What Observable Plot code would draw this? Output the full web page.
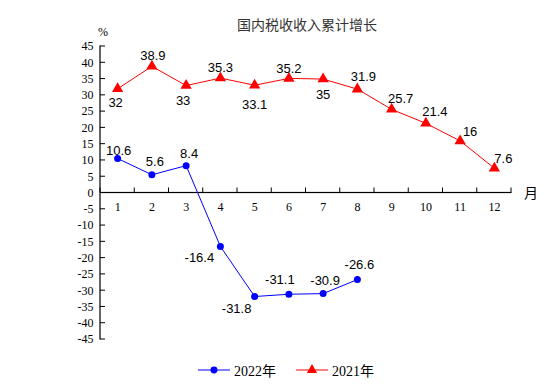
<!DOCTYPE html>
<html><head><meta charset="utf-8">
<script src="https://cdn.jsdelivr.net/npm/d3@7"></script>
<script src="https://cdn.jsdelivr.net/npm/@observablehq/plot@0.6"></script>
<style>
body{margin:0;background:#fff;}
.abs{position:absolute;white-space:nowrap;line-height:1;}
#title{left:237px;top:14px;font:14px "Noto Sans CJK SC",sans-serif;color:#333;}
#pct{left:98px;top:25px;font:12px "Liberation Serif",serif;color:#000;}
#month{left:524px;top:182px;font:14px "Liberation Serif","Noto Sans CJK SC",serif;color:#000;}
.leg{font:14px "Liberation Serif","Noto Sans CJK SC",serif;color:#000;display:flex;align-items:center;gap:3px;}
</style></head><body>
<div id="chart"></div>
<div id="title" class="abs">国内税收收入累计增长</div>
<div id="pct" class="abs">%</div>
<div id="month" class="abs">月</div>
<div id="leg1" class="abs leg" style="left:197px;top:360px;"></div>
<div id="leg2" class="abs leg" style="left:295px;top:360px;"></div>
<script>
const months = [1,2,3,4,5,6,7,8,9,10,11,12];
const months2022 = [1,2,3,4,5,6,7,8];
const growth2022 = [10.6,5.6,8.4,-16.4,-31.8,-31.1,-30.9,-26.6];
const growth2021 = [32,38.9,33,35.3,33.1,35.2,35,31.9,25.7,21.4,16,7.6];
const yTicks = [-45,-40,-35,-30,-25,-20,-15,-10,-5,0,5,10,15,20,25,30,35,40,45];
const xBounds = [0.5,1.5,2.5,3.5,4.5,5.5,6.5,7.5,8.5,9.5,10.5,11.5,12.5];
const seriesNames = ["2022年","2021年"];

// label placement (pixel offsets, styling only)
const off2021 = [[-2,14],[1,-11],[-3,15],[0,-10],[0,20],[0,-10],[0,16],[6,-12],[9,-11],[9,-12],[10,-9],[9,-9]];
const off2022 = [[1,-8],[3,-13],[3,-12],[-21,11],[-18,12],[-9,-14],[2,-13],[2,-15]];

const d2021 = months.map((m,i)=>({m, v: growth2021[i]}));
const d2022 = months2022.map((m,i)=>({m, v: growth2022[i]}));
const RED = "#ff0000", BLUE = "#0000ff", AX = "black";
const labelFont = {fontFamily: "Liberation Sans, Arial, sans-serif", fontSize: 13, fill: "black"};

const xMin = xBounds[0], xMax = xBounds[xBounds.length - 1];
const yMin = yTicks[0], yMax = yTicks[yTicks.length - 1];

const plot = Plot.plot({
  width: 554, height: 392,
  marginLeft: 100, marginRight: 43, marginTop: 46, marginBottom: 53,
  x: {type: "linear", domain: [xMin, xMax], axis: null},
  y: {domain: [yMin, yMax], axis: null},
  marks: [
    Plot.axisY({ticks: yTicks, tickSize: 0, tickPadding: 7, label: null, fontFamily: "Liberation Serif, serif", fontSize: 12, tickFormat: d => String(d)}),
    // axis lines and ticks drawn as thin filled rects
    Plot.rect([0], {x1: xMin, x2: xMin, y1: yMin, y2: yMax, insetLeft: -0.6, insetRight: -0.6, insetTop: -0.5, insetBottom: -0.5, fill: AX}),
    Plot.rect([0], {x1: xMin, x2: xMax, y1: 0, y2: 0, insetTop: -0.6, insetBottom: -0.6, insetRight: -0.5, fill: AX}),
    Plot.rect(yTicks, {x1: xMin, x2: xMin, y1: d => d, y2: d => d, insetRight: -5, insetTop: -0.5, insetBottom: -0.5, fill: AX}),
    Plot.rect(xBounds, {x1: d => d, x2: d => d, y1: 0, y2: 0, insetLeft: -0.5, insetRight: -0.5, insetTop: -5, fill: AX}),
    Plot.text(months, {x: d => d, y: 0, dy: 14, text: d => String(d), fontFamily: "Liberation Serif, serif", fontSize: 12}),
    Plot.line(d2021, {x: "m", y: "v", stroke: RED, strokeWidth: 1}),
    Plot.dot(d2021, {x: "m", y: "v", symbol: "triangle", r: 4.2, fill: RED, stroke: "none"}),
    Plot.line(d2022, {x: "m", y: "v", stroke: BLUE, strokeWidth: 1}),
    Plot.dot(d2022, {x: "m", y: "v", symbol: "circle", r: 3.5, fill: BLUE, stroke: "none"}),
    ...d2021.map((d,i) => Plot.text([d], {x: "m", y: "v", text: d => String(d.v), dx: off2021[i][0], dy: off2021[i][1], ...labelFont})),
    ...d2022.map((d,i) => Plot.text([d], {x: "m", y: "v", text: d => String(d.v), dx: off2022[i][0], dy: off2022[i][1], ...labelFont}))
  ]
});
document.getElementById("chart").appendChild(plot);

function legendItem(el, color, symbol, name) {
  const ns = "http://www.w3.org/2000/svg";
  const s = document.createElementNS(ns, "svg");
  s.setAttribute("width", 34); s.setAttribute("height", 14);
  const ln = document.createElementNS(ns, "line");
  ln.setAttribute("x1", 1); ln.setAttribute("x2", 33); ln.setAttribute("y1", 7); ln.setAttribute("y2", 7);
  ln.setAttribute("stroke", color); ln.setAttribute("stroke-width", 1);
  s.appendChild(ln);
  const sym = document.createElementNS(ns, "path");
  sym.setAttribute("d", d3.symbol(symbol === "circle" ? d3.symbolCircle : d3.symbolTriangle, symbol === "circle" ? 38 : 45)());
  sym.setAttribute("transform", "translate(17,7)");
  sym.setAttribute("fill", color);
  s.appendChild(sym);
  el.appendChild(s);
  const t = document.createElement("span");
  t.textContent = name;
  el.appendChild(t);
}
legendItem(document.getElementById("leg1"), BLUE, "circle", seriesNames[0]);
legendItem(document.getElementById("leg2"), RED, "triangle", seriesNames[1]);
</script>
</body></html>
